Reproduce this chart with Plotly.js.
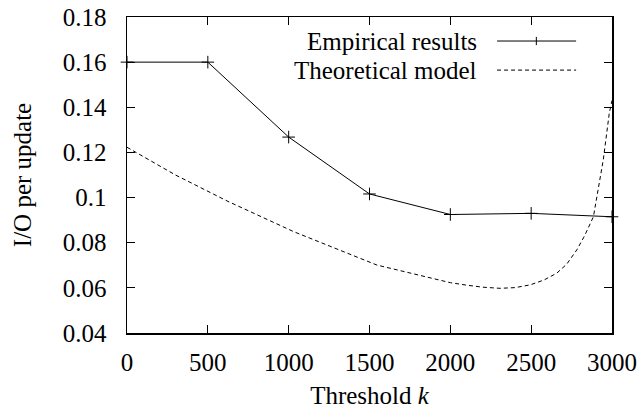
<!DOCTYPE html>
<html>
<head>
<meta charset="utf-8">
<script src="https://cdn.plot.ly/plotly-3.0.1.min.js"></script>
<style>
html,body{margin:0;padding:0;background:#fff;}
#chart{width:644px;height:420px;}
#fontwarm{font-family:'Liberation Serif';font-size:25px;color:#fff;position:absolute;top:430px;left:0;}
</style>
</head>
<body>
<div id="fontwarm">I/O per update 0.16 <i>k</i></div>
<div id="chart"></div>
<script>
const empK = [0, 500, 1000, 1500, 2000, 2500, 3000];
const empIO = [0.160, 0.160, 0.1268, 0.1016, 0.0925, 0.0930, 0.0915];

const theoK = [0, 300, 619, 1031, 1546, 2000, 2100, 2200, 2307, 2400, 2493, 2580, 2658, 2720, 2782, 2830, 2885, 2906, 2946, 2983, 3000];
const theoIO = [0.1223, 0.1100, 0.0985, 0.0849, 0.0701, 0.0623, 0.0612, 0.0603, 0.0598, 0.0601, 0.0613, 0.0635, 0.0665, 0.0705, 0.0768, 0.0830, 0.0915, 0.0997, 0.1167, 0.1373, 0.1430];

const xTicks = [0, 500, 1000, 1500, 2000, 2500, 3000];
const yTicks = [0.04, 0.06, 0.08, 0.1, 0.12, 0.14, 0.16, 0.18];
const yTickText = ['0.04', '0.06', '0.08', '0.1', '0.12', '0.14', '0.16', '0.18'];
const legendNames = ['Empirical results', 'Theoretical model'];

const FONT = 'Liberation Serif';
const FS = 25;
const tf = {family: FONT, size: FS};

const traces = [
  {x: empK, y: empIO, type: 'scatter', mode: 'lines+markers', name: legendNames[0],
   line: {color: '#000', width: 1},
   marker: {symbol: 'cross-thin', size: 9, line: {color: '#000', width: 1}},
   cliponaxis: false},
  {x: theoK, y: theoIO, type: 'scatter', mode: 'lines', name: legendNames[1],
   line: {color: '#000', width: 1, dash: '4px,3px'}}
];

const rows = [0.924, 0.832];
const layout = {
  width: 644, height: 420,
  margin: {l: 127, r: 32, t: 17, b: 87},
  paper_bgcolor: '#fff', plot_bgcolor: '#fff',
  showlegend: false,
  font: {family: FONT, size: FS, color: '#000'},
  xaxis: {
    range: [0, 3000], tickvals: xTicks, ticktext: xTicks.map(String),
    ticks: 'inside', ticklen: 8, tickwidth: 1, tickcolor: '#000',
    showline: true, linecolor: '#000', linewidth: 1.5, mirror: 'ticks',
    showgrid: false, zeroline: false, ticklabelstandoff: 6,
    tickfont: tf,
    title: {text: 'Threshold <i>k</i>', font: tf, standoff: 12}
  },
  yaxis: {
    range: [0.04, 0.18], tickvals: yTicks, ticktext: yTickText,
    ticks: 'inside', ticklen: 8, tickwidth: 1, tickcolor: '#000',
    showline: true, linecolor: '#000', linewidth: 1.5, mirror: 'ticks',
    showgrid: false, zeroline: false, ticklabelstandoff: 14,
    tickfont: tf,
    title: {text: 'I/O per update', font: tf, standoff: 24}
  },
  annotations: legendNames.map((t, i) => ({
    text: t, xref: 'paper', yref: 'paper', x: 0.726, y: rows[i],
    xanchor: 'right', yanchor: 'middle', showarrow: false,
    font: tf
  })),
  shapes: [
    {type: 'line', xref: 'paper', yref: 'paper', x0: 0.763, x1: 0.926, y0: rows[0], y1: rows[0], line: {color: '#000', width: 1}},
    {type: 'line', xref: 'paper', yref: 'paper', x0: 0.844, x1: 0.844, y0: rows[0] - 0.013, y1: rows[0] + 0.013, line: {color: '#000', width: 1}},
    {type: 'line', xref: 'paper', yref: 'paper', x0: 0.763, x1: 0.926, y0: rows[1], y1: rows[1], line: {color: '#000', width: 1, dash: '4px,3px'}}
  ]
};

Plotly.newPlot('chart', traces, layout, {staticPlot: true});
</script>
</body>
</html>
